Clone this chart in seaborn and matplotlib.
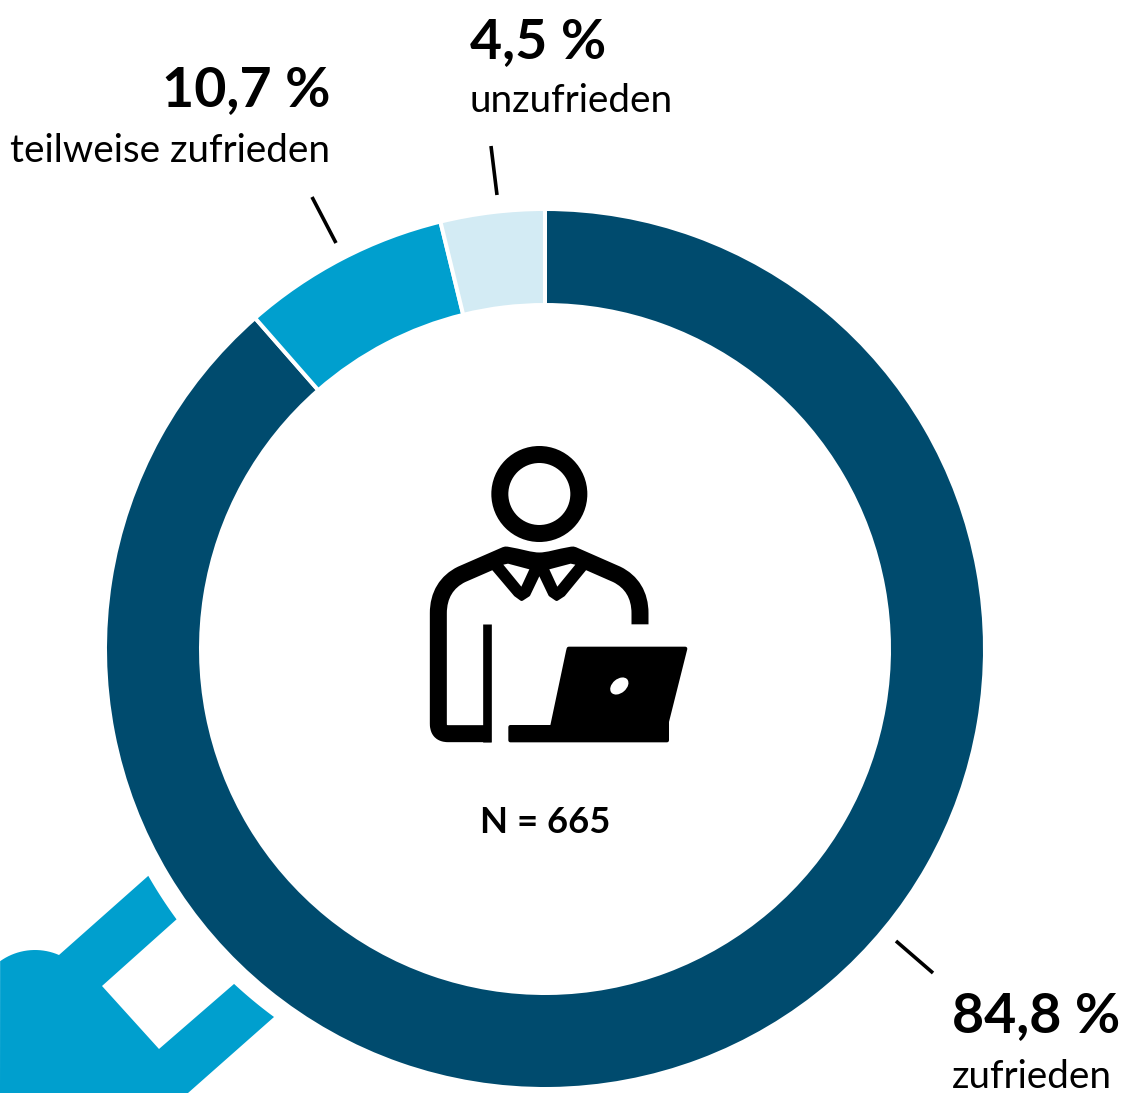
import numpy as np
import matplotlib
matplotlib.use("Agg")
import matplotlib.pyplot as plt
from matplotlib.patches import Circle, Ellipse, PathPatch, Polygon
from matplotlib.path import Path
import seaborn as sns

# ---- data -----------------------------------------------------------------
categories = ["zufrieden", "teilweise zufrieden", "unzufrieden"]
value_labels = ["84,8 %", "10,7 %", "4,5 %"]
# arc shares as they are actually drawn in the picture
drawn_shares = [88.55, 7.63, 3.82]
sample_label = "N = 665"
colors = ["#004B6E", "#009FCE", "#D3EBF4"]

W, H = 1131, 1093
sns.set_theme(style="white")
plt.rcParams["font.family"] = ["Lato", "DejaVu Sans"]
palette = sns.color_palette(colors)

fig = plt.figure(figsize=(W / 100, H / 100), dpi=100, facecolor="white")
ax = fig.add_axes([0, 0, 1, 1])

def Y(y):
    return H - y

CX, CY, R_OUT, R_IN = 545, 649, 438, 346
GAP = 4
ax.pie(drawn_shares, colors=palette, startangle=90, counterclock=False,
       center=(CX, Y(CY)), radius=R_OUT + GAP / 2,
       wedgeprops=dict(width=R_OUT - R_IN + GAP, edgecolor="white", linewidth=GAP * 0.72))
ax.set_xlim(0, W)
ax.set_ylim(0, H)
ax.set_aspect("equal")
ax.axis("off")

# ---- labels ---------------------------------------------------------------
BIG = 55.5 * 0.72
SMALL = 38.6 * 0.72
def label(x, y, s, ha, big):
    ax.text(x, Y(y), s, ha=ha, va="baseline", color="black",
            fontsize=BIG if big else SMALL, fontweight="bold" if big else "normal")

label(470, 58, value_labels[2], "left", True)
label(470, 112, categories[2], "left", False)
label(330, 106, value_labels[1], "right", True)
label(330, 162, categories[1], "right", False)
label(952, 1032, value_labels[0], "left", True)
label(952, 1088, categories[0], "left", False)
ax.text(545, Y(833), sample_label, ha="center", va="baseline", color="black",
        fontsize=36.5 * 0.72, fontweight="bold")

# leader lines
for (x0, y0, x1, y1) in [(491, 146, 497, 195), (312, 197, 336, 243), (896, 941, 933, 973)]:
    ax.plot([x0, x1], [Y(y0), Y(y1)], color="black", lw=3.6 * 0.72, solid_capstyle="butt")

# ---- plug decoration (bottom left) ----------------------------------------
def arc(p0, p1, c=(CX, CY), r=457, n=14):
    a0 = np.arctan2(p0[1] - c[1], p0[0] - c[0])
    a1 = np.arctan2(p1[1] - c[1], p1[0] - c[0])
    a = np.linspace(a0, a1, n)
    return [(c[0] + r * np.cos(t), c[1] + r * np.sin(t)) for t in a]

plug = arc((0, 961), (59, 955), c=(35, 1010), r=60, n=20)
plug += arc((148, 876), (177, 919))
plug += [(102, 986), (159, 1049)]
plug += arc((234, 984), (274, 1017))
plug += [(188, 1093), (0, 1093)]
ax.add_patch(Polygon([(x, Y(y)) for x, y in plug], closed=True, fc="#009FCE", ec="none"))

# ---- person icon ----------------------------------------------------------
def Z(x, y):
    return (420 + x / 3, Y(440 + y / 3))

ax.add_patch(Circle(Z(358, 162), 39.5, fc="white", ec="black", lw=17 * 0.72))

def stroke(cmds, w, cap="butt"):
    verts = [Z(*p) for p, _ in cmds]
    codes = [c for _, c in cmds]
    ax.add_patch(PathPatch(Path(verts, codes), fc="none", ec="black", lw=w / 3 * 0.72,
                           capstyle=cap, joinstyle="round"))

M, L, C = Path.MOVETO, Path.LINETO, Path.CURVE4
stroke([((213, 881), M), ((85, 881), L),
        ((62, 881), C), ((55, 870), C), ((55, 850), C),
        ((55, 520), L),
        ((55, 465), C), ((80, 425), C), ((125, 403), C),
        ((258, 345), L),
        ((300, 352), C), ((330, 363), C), ((358, 363), C),
        ((386, 363), C), ((416, 352), C), ((458, 345), C),
        ((590, 403), L),
        ((635, 425), C), ((660, 465), C), ((660, 520), C),
        ((660, 553), L)], 51)
stroke([((200, 553), M), ((200, 906.5), L)], 26)

# collar (rounded by a thick round-joined edge)
collar = [(220, 385), (287, 464), (305, 477), (325, 464), (358, 395),
          (391, 464), (410, 477), (430, 464), (495, 385), (358, 350)]
ax.add_patch(Polygon([Z(*p) for p in collar], closed=True, fc="black", ec="black", lw=4 * 0.72,
                     joinstyle="round"))
for tri in [[(250, 374), (264, 371), (328, 388), (304, 440)],
            [(388, 388), (452, 371), (466, 374), (412, 440)]]:
    ax.add_patch(Polygon([Z(*p) for p in tri], closed=True, fc="white", ec="none"))

# laptop (rounded by a thick round-joined edge)
lap = [(446, 626), (796, 626), (741, 845), (741, 901), (271, 901), (271, 861),
       (396, 861), (444, 634)]
ax.add_patch(Polygon([Z(*p) for p in lap], closed=True, fc="black", ec="black", lw=4 * 0.72,
                     joinstyle="round"))
ax.add_patch(Ellipse(Z(598, 738), 62 / 3, 42 / 3, angle=40, fc="white", ec="none"))

fig.savefig("out.png", dpi=100, facecolor="white")
